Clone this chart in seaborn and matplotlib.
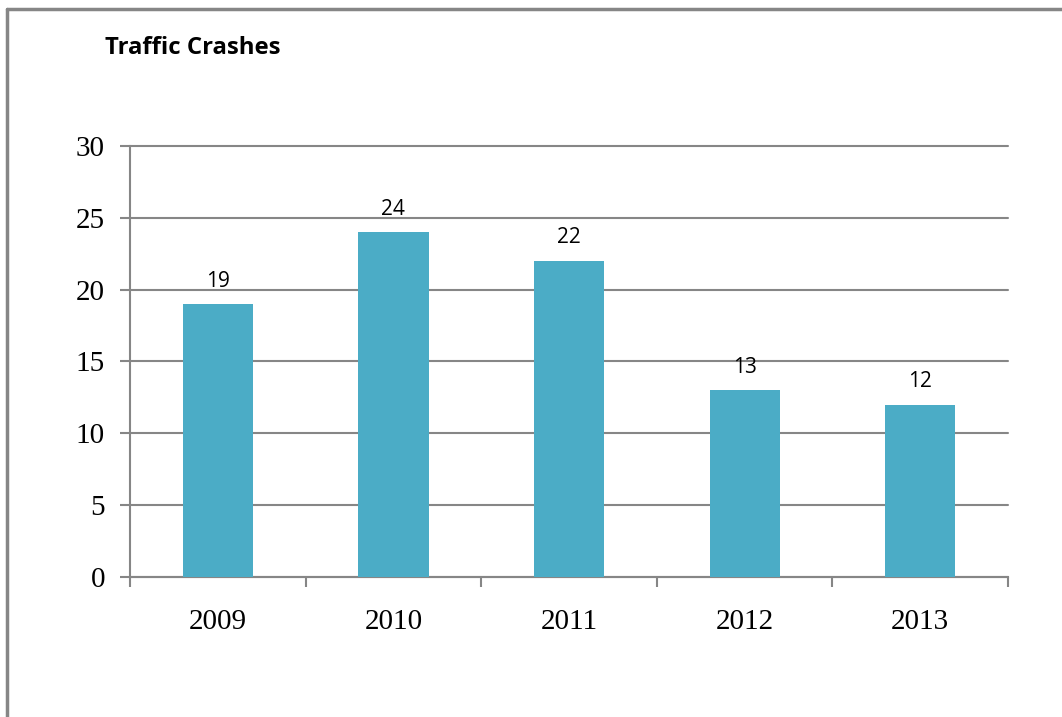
import numpy as np
import pandas as pd
import matplotlib.pyplot as plt
import seaborn as sns

years = ['2009', '2010', '2011', '2012', '2013']
crashes = [19, 24, 22, 13, 12]

df = pd.DataFrame({'year': years, 'crashes': crashes})

sns.set_style('white')
plt.rcParams['text.color'] = 'black'
plt.rcParams['xtick.color'] = 'black'
plt.rcParams['ytick.color'] = 'black'
grid_col = '#868686'

fig = plt.figure(figsize=(10.62, 7.17), dpi=100)
ax = fig.add_axes([0.1224, 0.1953, 0.9492 - 0.1224, 0.7964 - 0.1953])

sns.barplot(data=df, x='year', y='crashes', color='#4BACC6', saturation=1,
            width=0.4, linewidth=0, ax=ax, zorder=3)

ax.set_ylim(0, 30)
ax.set_xlim(-0.5, len(years) - 0.5)
ax.set_yticks(np.arange(0, 31, 5))
ax.yaxis.grid(True, color=grid_col, linewidth=1.5, zorder=0)
ax.set_axisbelow(True)
ax.set_xlabel('')
ax.set_ylabel('')
for gl in ax.get_ygridlines():
    gl.set_clip_on(False)

for s in ['top', 'right']:
    ax.spines[s].set_visible(False)
for s in ['left', 'bottom']:
    ax.spines[s].set_color(grid_col)
    ax.spines[s].set_linewidth(1.5)

# category boundary ticks on the x axis
ax.set_xticks(np.arange(len(years)))
ax.set_xticks(np.arange(len(years) + 1) - 0.5, minor=True)
ax.tick_params(axis='x', which='major', bottom=True, length=0, pad=23)
ax.tick_params(axis='x', which='minor', bottom=True, length=7, width=1.5, color=grid_col, direction='out')
ax.tick_params(axis='y', left=True, length=7, width=1.5, color=grid_col, direction='out', pad=11)
for lbl in ax.get_xticklabels() + ax.get_yticklabels():
    lbl.set_fontfamily('Liberation Serif')
    lbl.set_fontsize(21)
    lbl.set_color('black')

for i, v in enumerate(crashes):
    ax.annotate(str(v), (i, v), xytext=(0, 9), textcoords='offset points',
                ha='center', va='bottom', fontsize=15, fontfamily='Open Sans', color='black')

fig.text(105 / 1062, 1 - 48 / 717, 'Traffic Crashes', fontsize=17.2, fontweight='bold',
         fontfamily='Open Sans', ha='left', va='center', color='black')

# outer chart frame (only left and top visible in the crop)
fig.add_artist(plt.Line2D([7 / 1062, 7 / 1062], [0, 1 - 9 / 717], transform=fig.transFigure,
                          color=grid_col, linewidth=2.5))
fig.add_artist(plt.Line2D([7 / 1062, 1], [1 - 9 / 717, 1 - 9 / 717], transform=fig.transFigure,
                          color=grid_col, linewidth=2.5))

fig.savefig('out.png', dpi=100)
